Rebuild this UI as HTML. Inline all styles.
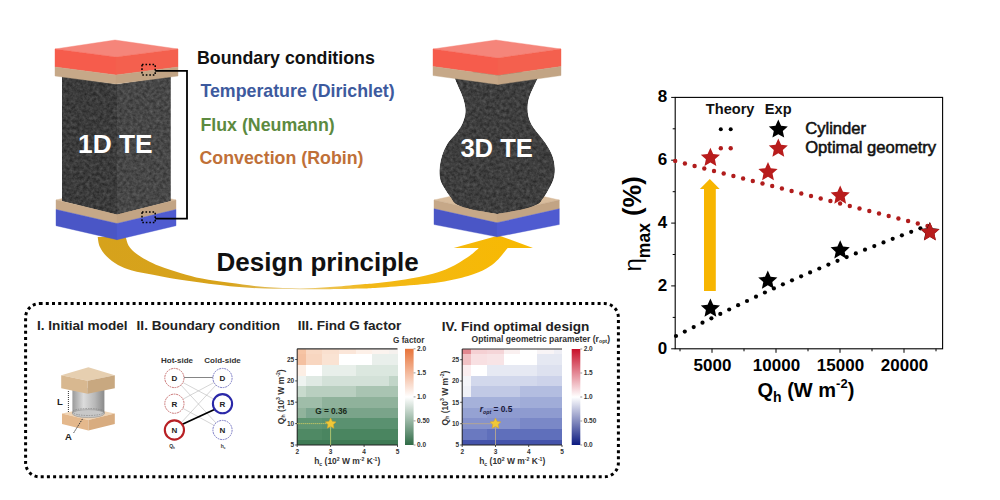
<!DOCTYPE html>
<html><head><meta charset="utf-8"><style>
html,body{margin:0;padding:0;background:#fff;}
body{width:1000px;height:500px;overflow:hidden;}
svg{display:block;font-family:"Liberation Sans", sans-serif;}
</style></head><body>
<svg width="1000" height="500" viewBox="0 0 1000 500">
<rect width="1000" height="500" fill="#fff"/>
<defs>
<filter id="tex" x="0" y="0" width="100%" height="100%" color-interpolation-filters="sRGB">
 <feTurbulence type="fractalNoise" baseFrequency="0.3" numOctaves="3" seed="7" result="n"/>
 <feColorMatrix in="n" type="matrix" values="1 0 0 0 0  1 0 0 0 0  1 0 0 0 0  0 0 0 0 1" result="g"/>
 <feComposite in="g" in2="SourceGraphic" operator="arithmetic" k1="0" k2="0.24" k3="1" k4="-0.12" result="c"/>
 <feComposite in="c" in2="SourceGraphic" operator="in"/>
</filter>
<linearGradient id="arrowg" x1="0" y1="0" x2="1" y2="0">
 <stop offset="0" stop-color="#d6a21c"/>
 <stop offset="0.3" stop-color="#d8a31a"/>
 <stop offset="0.46" stop-color="#e8cc80"/>
 <stop offset="0.62" stop-color="#f2b818"/>
 <stop offset="1" stop-color="#f8b900"/>
</linearGradient>
<linearGradient id="cbg" x1="0" y1="0" x2="0" y2="1">
 <stop offset="0" stop-color="#e8743a"/>
 <stop offset="0.5" stop-color="#ffffff"/>
 <stop offset="1" stop-color="#2f6b46"/>
</linearGradient>
<linearGradient id="cbr" x1="0" y1="0" x2="0" y2="1">
 <stop offset="0" stop-color="#c8102a"/>
 <stop offset="0.5" stop-color="#ffffff"/>
 <stop offset="1" stop-color="#0c1a80"/>
</linearGradient>
<linearGradient id="cyl" x1="0" y1="0" x2="1" y2="0">
 <stop offset="0" stop-color="#9a9a9a"/>
 <stop offset="0.35" stop-color="#dcdcdc"/>
 <stop offset="0.7" stop-color="#b8b8b8"/>
 <stop offset="1" stop-color="#8a8a8a"/>
</linearGradient>
</defs>
<path d="M97.7,237.0 C98.0,238.6 98.3,243.5 99.8,246.8 C101.3,250.1 103.8,253.6 106.8,256.6 C109.8,259.6 113.8,262.7 118.0,265.0 C122.2,267.3 126.2,269.0 132.0,270.6 C137.8,272.2 146.0,273.4 153.0,274.8 C160.0,276.2 165.8,277.5 174.0,278.8 C182.2,280.1 192.7,281.6 202.0,282.8 C211.3,284.0 219.5,285.2 230.0,286.2 C240.5,287.2 253.3,288.1 265.0,288.6 C276.7,289.1 289.2,289.1 300.0,289.2 C310.8,289.3 320.0,289.3 330.0,289.2 C340.0,289.1 352.0,288.9 360.0,288.6 C368.0,288.4 369.0,288.3 378.0,287.7 C387.0,287.1 403.5,285.9 414.0,285.0 C424.5,284.1 432.0,283.5 441.0,282.0 C450.0,280.5 460.5,278.2 468.0,276.0 C475.5,273.8 481.2,271.3 486.0,268.7 C490.8,266.1 493.4,264.1 497.0,260.6 C500.6,257.2 505.9,250.1 507.7,248.0 L533,248 L498.7,235.4 L453.7,248 L478.9,248.0 C477.1,249.5 472.8,253.8 468.0,257.0 C463.2,260.2 456.0,264.7 450.0,267.5 C444.0,270.3 439.5,272.0 432.0,274.0 C424.5,276.0 414.0,278.0 405.0,279.5 C396.0,281.0 385.5,282.2 378.0,283.0 C370.5,283.8 368.0,283.8 360.0,284.5 C352.0,285.2 340.0,286.4 330.0,287.0 C320.0,287.6 310.8,288.4 300.0,288.4 C289.2,288.4 276.7,287.9 265.0,287.0 C253.3,286.1 240.5,284.2 230.0,282.8 C219.5,281.4 210.2,280.2 202.0,278.6 C193.8,277.0 188.0,275.2 181.0,273.2 C174.0,271.1 165.8,268.5 160.0,266.3 C154.2,264.1 150.2,262.1 146.0,259.8 C141.8,257.5 137.7,254.8 134.8,252.4 C131.9,250.0 130.0,248.0 128.5,245.4 C127.0,242.8 126.2,238.4 125.7,237.0 Z" fill="url(#arrowg)"/>
<polygon points="56.0,200.0 116.0,186.0 176.0,200.0 117.0,214.0" fill="#d8bc9c" stroke="#d8bc9c" stroke-width="0.4" stroke-linejoin="round"/><polygon points="56.0,200.0 117.0,214.0 117.0,223.5 56.0,209.5" fill="#c6a888" stroke="#c6a888" stroke-width="0.4" stroke-linejoin="round"/><polygon points="117.0,214.0 176.0,200.0 176.0,209.5 117.0,223.5" fill="#c2a484" stroke="#c2a484" stroke-width="0.4" stroke-linejoin="round"/><polygon points="56.0,209.5 117.0,223.5 117.0,239.7 56.0,225.7" fill="#4a56c6" stroke="#4a56c6" stroke-width="0.4" stroke-linejoin="round"/><polygon points="117.0,223.5 176.0,209.5 176.0,225.7 117.0,239.7" fill="#4f5bd0" stroke="#4f5bd0" stroke-width="0.4" stroke-linejoin="round"/>
<g filter="url(#tex)"><polygon points="62.0,76.0 117.0,84.0 117.0,214.6 62.0,201.0" fill="#3b3b3b" /><polygon points="117.0,84.0 170.8,76.0 170.8,201.0 117.0,214.6" fill="#474747" /></g>
<polygon points="55.0,49.0 115.0,40.0 178.0,49.0 116.0,57.0" fill="#f5857a" stroke="#f5857a" stroke-width="0.4" stroke-linejoin="round"/><polygon points="55.0,49.0 116.0,57.0 116.0,75.0 55.0,67.0" fill="#f65c4c" stroke="#f65c4c" stroke-width="0.4" stroke-linejoin="round"/><polygon points="116.0,57.0 178.0,49.0 178.0,67.0 116.0,75.0" fill="#f4604e" stroke="#f4604e" stroke-width="0.4" stroke-linejoin="round"/><polygon points="55.0,67.0 116.0,75.0 116.0,84.0 55.0,76.0" fill="#c6a888" stroke="#c6a888" stroke-width="0.4" stroke-linejoin="round"/><polygon points="116.0,75.0 178.0,67.0 178.0,76.0 116.0,84.0" fill="#c2a484" stroke="#c2a484" stroke-width="0.4" stroke-linejoin="round"/>
<text x="78.0" y="153.0" font-size="26.30" font-weight="bold" fill="#fff" text-anchor="start" >1D TE</text>
<g fill="none" stroke="#000" stroke-width="1.5"><rect x="142" y="64.5" width="13.2" height="10.5" stroke-dasharray="1.6 1.9" /><rect x="142" y="212" width="13.2" height="10.5" stroke-dasharray="1.6 1.9" /><polyline points="155.2,70.9 187,70.9 187,218.6 155.2,218.6" stroke-width="1.8"/></g>
<text x="197.0" y="63.6" font-size="17.80" font-weight="bold" fill="#111" text-anchor="start" >Boundary conditions</text>
<text x="200.4" y="96.6" font-size="17.80" font-weight="bold" fill="#3d5a9e" text-anchor="start" >Temperature (Dirichlet)</text>
<text x="200.4" y="130.6" font-size="17.80" font-weight="bold" fill="#5c8a40" text-anchor="start" >Flux (Neumann)</text>
<text x="199.5" y="163.6" font-size="17.80" font-weight="bold" fill="#c07038" text-anchor="start" >Convection (Robin)</text>
<polygon points="434.0,200.0 496.6,186.0 559.3,200.0 497.0,214.0" fill="#d8bc9c" stroke="#d8bc9c" stroke-width="0.4" stroke-linejoin="round"/><polygon points="434.0,200.0 497.0,214.0 497.0,222.8 434.0,208.8" fill="#c6a888" stroke="#c6a888" stroke-width="0.4" stroke-linejoin="round"/><polygon points="497.0,214.0 559.3,200.0 559.3,208.8 497.0,222.8" fill="#c2a484" stroke="#c2a484" stroke-width="0.4" stroke-linejoin="round"/><polygon points="434.0,208.8 497.0,222.8 497.0,236.8 434.0,224.5" fill="#4a56c6" stroke="#4a56c6" stroke-width="0.4" stroke-linejoin="round"/><polygon points="497.0,222.8 559.3,208.8 559.3,224.5 497.0,236.8" fill="#4f5bd0" stroke="#4f5bd0" stroke-width="0.4" stroke-linejoin="round"/>
<g filter="url(#tex)"><path d="M454.0,72.0 C454.0,72.7 453.3,73.7 454.0,76.0 C454.7,78.3 456.5,82.5 458.0,86.0 C459.5,89.5 461.6,93.7 462.8,97.2 C464.0,100.7 464.8,103.9 465.2,106.8 C465.6,109.7 465.7,111.9 465.2,114.8 C464.7,117.7 463.6,121.2 462.0,124.4 C460.4,127.6 458.0,130.8 455.6,134.0 C453.2,137.2 449.9,139.9 447.6,143.6 C445.3,147.3 443.3,151.8 442.0,156.0 C440.7,160.2 439.9,164.8 439.6,168.8 C439.3,172.8 439.5,176.5 440.4,180.0 C441.3,183.5 443.5,186.7 445.2,189.6 C446.9,192.5 449.0,195.2 450.8,197.6 C452.6,200.0 452.8,202.1 456.0,204.0 C459.2,205.9 463.1,207.3 470.0,209.0 C476.9,210.7 492.7,213.2 497.2,214.0  C501.7,213.2 517.2,210.7 524.0,209.0 C530.8,207.3 534.9,205.7 538.0,204.0 C541.1,202.3 540.9,201.1 542.5,199.0 C544.1,196.9 545.8,194.4 547.6,191.2 C549.4,188.0 552.0,183.7 553.2,180.0 C554.4,176.3 554.9,172.8 554.8,168.8 C554.7,164.8 553.7,159.9 552.4,156.0 C551.1,152.1 548.9,148.6 546.8,145.2 C544.7,141.8 542.0,138.8 539.6,135.6 C537.2,132.4 534.3,129.2 532.4,126.0 C530.5,122.8 529.2,119.6 528.4,116.4 C527.6,113.2 527.5,110.0 527.6,106.8 C527.7,103.6 528.1,100.7 529.2,97.2 C530.3,93.7 532.4,89.5 534.0,86.0 C535.6,82.5 538.0,78.3 538.8,76.0 C539.6,73.7 538.8,72.7 538.8,72.0 Z" fill="#3e3e3e"/></g>
<polygon points="433.0,49.0 496.0,40.0 561.0,49.0 498.0,58.0" fill="#f5857a" stroke="#f5857a" stroke-width="0.4" stroke-linejoin="round"/><polygon points="433.0,49.0 498.0,58.0 498.0,75.5 433.0,66.5" fill="#f65c4c" stroke="#f65c4c" stroke-width="0.4" stroke-linejoin="round"/><polygon points="498.0,58.0 561.0,49.0 561.0,66.5 498.0,75.5" fill="#f4604e" stroke="#f4604e" stroke-width="0.4" stroke-linejoin="round"/><polygon points="433.0,66.5 498.0,75.5 498.0,84.5 433.0,75.5" fill="#c6a888" stroke="#c6a888" stroke-width="0.4" stroke-linejoin="round"/><polygon points="498.0,75.5 561.0,66.5 561.0,75.5 498.0,84.5" fill="#c2a484" stroke="#c2a484" stroke-width="0.4" stroke-linejoin="round"/>
<text x="460.4" y="156.5" font-size="25.60" font-weight="bold" fill="#fff" text-anchor="start" >3D TE</text>
<text x="216.5" y="270.6" font-size="26.00" font-weight="bold" fill="#111" text-anchor="start" >Design principle</text>
<rect x="25.6" y="303.6" width="592.8" height="173.2" rx="14" ry="14" fill="none" stroke="#000" stroke-width="3" stroke-dasharray="3 3.2"/>
<text x="37.0" y="330.2" font-size="13.60" font-weight="bold" fill="#222" text-anchor="start" >I. Initial model</text>
<text x="136.6" y="330.4" font-size="13.60" font-weight="bold" fill="#222" text-anchor="start" >II. Boundary condition</text>
<text x="297.8" y="330.4" font-size="13.60" font-weight="bold" fill="#222" text-anchor="start" >III. Find G factor</text>
<text x="441.8" y="330.6" font-size="13.60" font-weight="bold" fill="#222" text-anchor="start" >IV. Find optimal design</text>
<polygon points="62.0,413.6 89.0,408.0 114.8,413.6 88.4,420.0" fill="#f0d4b4" /><polygon points="62.0,413.6 88.4,420.0 88.4,430.5 62.0,424.1" fill="#e4b88c" /><polygon points="88.4,420.0 114.8,413.6 114.8,424.1 88.4,430.5" fill="#d8ac80" />
<rect x="72.4" y="388" width="32" height="26" fill="url(#cyl)"/>
<ellipse cx="88.4" cy="413.6" rx="16" ry="4" fill="#c8c8c8" stroke="#888" stroke-width="0.5"/>
<ellipse cx="88.4" cy="412" rx="16" ry="3.5" fill="none" stroke="#777" stroke-width="0.6" stroke-dasharray="1.5 1"/>
<polygon points="61.2,375.2 88.4,367.2 114.8,375.2 87.6,380.8" fill="#e6cfb0" /><polygon points="61.2,375.2 87.6,380.8 87.6,393.8 61.2,388.2" fill="#d8b890" /><polygon points="87.6,380.8 114.8,375.2 114.8,388.2 87.6,393.8" fill="#c8a880" />
<line x1="68.4" y1="391" x2="68.4" y2="413" stroke="#333" stroke-width="1" stroke-dasharray="1 1"/>
<line x1="73.7" y1="432.8" x2="82.8" y2="418.4" stroke="#333" stroke-width="1" stroke-dasharray="1.5 1"/>
<text x="57.0" y="404.5" font-size="9.50" font-weight="bold" fill="#222" text-anchor="start" >L</text>
<text x="65.0" y="440.0" font-size="9.50" font-weight="bold" fill="#222" text-anchor="start" >A</text>
<text x="177.0" y="362.5" font-size="8.00" font-weight="bold" fill="#333" text-anchor="middle" >Hot-side</text>
<text x="222.5" y="362.5" font-size="8.00" font-weight="bold" fill="#333" text-anchor="middle" >Cold-side</text>
<line x1="184.0" y1="377.5" x2="212.9" y2="377.5" stroke="#777" stroke-width="0.9"/><line x1="182.9" y1="382.5" x2="214.0" y2="399.2" stroke="#b8b8b8" stroke-width="0.6"/><line x1="180.9" y1="385.0" x2="216.0" y2="423.0" stroke="#b8b8b8" stroke-width="0.6"/><line x1="182.9" y1="399.2" x2="214.0" y2="382.5" stroke="#b8b8b8" stroke-width="0.6"/><line x1="182.8" y1="408.3" x2="214.1" y2="425.4" stroke="#b8b8b8" stroke-width="0.6"/><line x1="180.9" y1="423.0" x2="216.0" y2="385.0" stroke="#b8b8b8" stroke-width="0.6"/>
<line x1="181.9" y1="424.5" x2="215.0" y2="409.2" stroke="#000" stroke-width="1.8"/>
<circle cx="174.4" cy="378.0" r="9.6" fill="#fff" stroke="#c87070" stroke-width="1.0" stroke-dasharray="1.8 0.8"/>
<text x="174.4" y="381.0" font-size="8.00" font-weight="bold" fill="#222" text-anchor="middle" >D</text>
<circle cx="222.5" cy="378.0" r="9.6" fill="#fff" stroke="#7878c4" stroke-width="1.0" stroke-dasharray="1.8 0.8"/>
<text x="222.5" y="381.0" font-size="8.00" font-weight="bold" fill="#222" text-anchor="middle" >D</text>
<circle cx="174.4" cy="403.7" r="9.6" fill="#fff" stroke="#c87070" stroke-width="1.0" stroke-dasharray="1.8 0.8"/>
<text x="174.4" y="406.7" font-size="8.00" font-weight="bold" fill="#222" text-anchor="middle" >R</text>
<circle cx="222.5" cy="403.7" r="9.6" fill="#fff" stroke="#2a28a8" stroke-width="2.1" />
<text x="222.5" y="406.7" font-size="8.00" font-weight="bold" fill="#222" text-anchor="middle" >R</text>
<circle cx="174.4" cy="430.0" r="9.6" fill="#fff" stroke="#b82024" stroke-width="2.1" />
<text x="174.4" y="433.0" font-size="8.00" font-weight="bold" fill="#222" text-anchor="middle" >N</text>
<circle cx="222.5" cy="430.0" r="9.6" fill="#fff" stroke="#7878c4" stroke-width="1.0" stroke-dasharray="1.8 0.8"/>
<text x="222.5" y="433.0" font-size="8.00" font-weight="bold" fill="#222" text-anchor="middle" >N</text>
<text x="172.0" y="448.0" font-size="5.00" font-weight="bold" fill="#333" text-anchor="middle" >Q<tspan font-size="3" dy="1">h</tspan></text>
<text x="223.0" y="448.0" font-size="5.00" font-weight="bold" fill="#333" text-anchor="middle" >h<tspan font-size="3" dy="1">c</tspan></text>
<g shape-rendering="crispEdges"><rect x="297.20" y="348.80" width="8.66" height="5.64" fill="#f6c4a4"/><rect x="305.56" y="348.80" width="17.02" height="5.64" fill="#f9d9c4"/><rect x="322.27" y="348.80" width="17.02" height="5.64" fill="#fae0cf"/><rect x="338.99" y="348.80" width="17.02" height="5.64" fill="#fbe6d9"/><rect x="355.71" y="348.80" width="17.02" height="5.64" fill="#fdf0e8"/><rect x="372.43" y="348.80" width="17.02" height="5.64" fill="#fbf3ee"/><rect x="389.14" y="348.80" width="8.66" height="5.64" fill="#f5f1ee"/><rect x="297.20" y="354.14" width="8.66" height="10.99" fill="#f4c0a0"/><rect x="305.56" y="354.14" width="17.02" height="10.99" fill="#f8d6c0"/><rect x="322.27" y="354.14" width="17.02" height="10.99" fill="#fae3d3"/><rect x="338.99" y="354.14" width="17.02" height="10.99" fill="#ffffff"/><rect x="355.71" y="354.14" width="17.02" height="10.99" fill="#ffffff"/><rect x="372.43" y="354.14" width="17.02" height="10.99" fill="#e9efeb"/><rect x="389.14" y="354.14" width="8.66" height="10.99" fill="#e9efeb"/><rect x="297.20" y="364.83" width="8.66" height="10.99" fill="#fceee4"/><rect x="305.56" y="364.83" width="17.02" height="10.99" fill="#ffffff"/><rect x="322.27" y="364.83" width="17.02" height="10.99" fill="#e8efea"/><rect x="338.99" y="364.83" width="17.02" height="10.99" fill="#e8efea"/><rect x="355.71" y="364.83" width="17.02" height="10.99" fill="#dbe7df"/><rect x="372.43" y="364.83" width="17.02" height="10.99" fill="#dbe7df"/><rect x="389.14" y="364.83" width="8.66" height="10.99" fill="#dbe7df"/><rect x="297.20" y="375.52" width="8.66" height="10.99" fill="#eef3f0"/><rect x="305.56" y="375.52" width="17.02" height="10.99" fill="#dfe9e3"/><rect x="322.27" y="375.52" width="17.02" height="10.99" fill="#d3e1d8"/><rect x="338.99" y="375.52" width="17.02" height="10.99" fill="#d3e1d8"/><rect x="355.71" y="375.52" width="17.02" height="10.99" fill="#d3e1d8"/><rect x="372.43" y="375.52" width="17.02" height="10.99" fill="#d3e1d8"/><rect x="389.14" y="375.52" width="8.66" height="10.99" fill="#c1d5c8"/><rect x="297.20" y="386.21" width="8.66" height="10.99" fill="#c8dacd"/><rect x="305.56" y="386.21" width="17.02" height="10.99" fill="#b9cfc0"/><rect x="322.27" y="386.21" width="17.02" height="10.99" fill="#b9cfc0"/><rect x="338.99" y="386.21" width="17.02" height="10.99" fill="#b9cfc0"/><rect x="355.71" y="386.21" width="17.02" height="10.99" fill="#a9c4b2"/><rect x="372.43" y="386.21" width="17.02" height="10.99" fill="#a9c4b2"/><rect x="389.14" y="386.21" width="8.66" height="10.99" fill="#a9c4b2"/><rect x="297.20" y="396.90" width="8.66" height="10.99" fill="#9fbda9"/><rect x="305.56" y="396.90" width="17.02" height="10.99" fill="#9fbda9"/><rect x="322.27" y="396.90" width="17.02" height="10.99" fill="#8fb29b"/><rect x="338.99" y="396.90" width="17.02" height="10.99" fill="#8fb29b"/><rect x="355.71" y="396.90" width="17.02" height="10.99" fill="#8fb29b"/><rect x="372.43" y="396.90" width="17.02" height="10.99" fill="#8fb29b"/><rect x="389.14" y="396.90" width="8.66" height="10.99" fill="#8fb29b"/><rect x="297.20" y="407.59" width="8.66" height="10.99" fill="#91b39c"/><rect x="305.56" y="407.59" width="17.02" height="10.99" fill="#7da690"/><rect x="322.27" y="407.59" width="17.02" height="10.99" fill="#7aa48a"/><rect x="338.99" y="407.59" width="17.02" height="10.99" fill="#7aa48a"/><rect x="355.71" y="407.59" width="17.02" height="10.99" fill="#7aa48a"/><rect x="372.43" y="407.59" width="17.02" height="10.99" fill="#7aa48a"/><rect x="389.14" y="407.59" width="8.66" height="10.99" fill="#7aa48a"/><rect x="297.20" y="418.28" width="8.66" height="10.99" fill="#5f9572"/><rect x="305.56" y="418.28" width="17.02" height="10.99" fill="#5f9572"/><rect x="322.27" y="418.28" width="17.02" height="10.99" fill="#5a9170"/><rect x="338.99" y="418.28" width="17.02" height="10.99" fill="#5a9170"/><rect x="355.71" y="418.28" width="17.02" height="10.99" fill="#5a9170"/><rect x="372.43" y="418.28" width="17.02" height="10.99" fill="#5a9170"/><rect x="389.14" y="418.28" width="8.66" height="10.99" fill="#5a9170"/><rect x="297.20" y="428.97" width="8.66" height="10.99" fill="#4f8964"/><rect x="305.56" y="428.97" width="17.02" height="10.99" fill="#4f8964"/><rect x="322.27" y="428.97" width="17.02" height="10.99" fill="#4a8560"/><rect x="338.99" y="428.97" width="17.02" height="10.99" fill="#4a8560"/><rect x="355.71" y="428.97" width="17.02" height="10.99" fill="#4a8560"/><rect x="372.43" y="428.97" width="17.02" height="10.99" fill="#4a8560"/><rect x="389.14" y="428.97" width="8.66" height="10.99" fill="#4a8560"/><rect x="297.20" y="439.66" width="8.66" height="5.64" fill="#3f7b55"/><rect x="305.56" y="439.66" width="17.02" height="5.64" fill="#3f7b55"/><rect x="322.27" y="439.66" width="17.02" height="5.64" fill="#3f7b55"/><rect x="338.99" y="439.66" width="17.02" height="5.64" fill="#3f7b55"/><rect x="355.71" y="439.66" width="17.02" height="5.64" fill="#3f7b55"/><rect x="372.43" y="439.66" width="17.02" height="5.64" fill="#3f7b55"/><rect x="389.14" y="439.66" width="8.66" height="5.64" fill="#3f7b55"/></g><line x1="297.2" y1="348.8" x2="397.5" y2="348.8" stroke="#333" stroke-width="1.2"/><line x1="297.2" y1="348.8" x2="297.2" y2="445.0" stroke="#222" stroke-width="1"/><line x1="297.2" y1="445.0" x2="397.5" y2="445.0" stroke="#222" stroke-width="1.2"/><line x1="295.2" y1="445.0" x2="297.2" y2="445.0" stroke="#222" stroke-width="0.8"/><text x="294.2" y="447.3" font-size="6.50" font-weight="bold" fill="#333" text-anchor="end" >5</text><line x1="295.2" y1="423.6" x2="297.2" y2="423.6" stroke="#222" stroke-width="0.8"/><text x="294.2" y="425.9" font-size="6.50" font-weight="bold" fill="#333" text-anchor="end" >10</text><line x1="295.2" y1="402.2" x2="297.2" y2="402.2" stroke="#222" stroke-width="0.8"/><text x="294.2" y="404.5" font-size="6.50" font-weight="bold" fill="#333" text-anchor="end" >15</text><line x1="295.2" y1="380.9" x2="297.2" y2="380.9" stroke="#222" stroke-width="0.8"/><text x="294.2" y="383.2" font-size="6.50" font-weight="bold" fill="#333" text-anchor="end" >20</text><line x1="295.2" y1="359.5" x2="297.2" y2="359.5" stroke="#222" stroke-width="0.8"/><text x="294.2" y="361.8" font-size="6.50" font-weight="bold" fill="#333" text-anchor="end" >25</text><line x1="297.2" y1="445.0" x2="297.2" y2="447.0" stroke="#222" stroke-width="0.8"/><text x="297.2" y="454.0" font-size="6.50" font-weight="bold" fill="#333" text-anchor="middle" >2</text><line x1="330.6" y1="445.0" x2="330.6" y2="447.0" stroke="#222" stroke-width="0.8"/><text x="330.6" y="454.0" font-size="6.50" font-weight="bold" fill="#333" text-anchor="middle" >3</text><line x1="364.1" y1="445.0" x2="364.1" y2="447.0" stroke="#222" stroke-width="0.8"/><text x="364.1" y="454.0" font-size="6.50" font-weight="bold" fill="#333" text-anchor="middle" >4</text><line x1="397.5" y1="445.0" x2="397.5" y2="447.0" stroke="#222" stroke-width="0.8"/><text x="397.5" y="454.0" font-size="6.50" font-weight="bold" fill="#333" text-anchor="middle" >5</text><g stroke="#d8d060" stroke-width="0.9" stroke-dasharray="1.2 0.8"><line x1="297.2" y1="423.6" x2="330.6" y2="423.6"/></g><line x1="330.6" y1="423.6" x2="330.6" y2="445.0" stroke="#b8c870" stroke-width="0.9"/><polygon points="330.6,418.0 332.3,421.4 336.0,421.9 333.3,424.5 333.9,428.2 330.6,426.4 327.3,428.2 328.0,424.5 325.3,421.9 329.0,421.4" fill="#f0c838"  stroke="#d8a828" stroke-width="0.6"/><rect x="405.0" y="348.8" width="8.6" height="96.2" fill="url(#cbg)"/><line x1="413.6" y1="348.8" x2="415.5" y2="348.8" stroke="#555" stroke-width="0.6"/><text x="417.0" y="351.2" font-size="6.50" font-weight="bold" fill="#333" text-anchor="start" >2.0</text><line x1="413.6" y1="372.9" x2="415.5" y2="372.9" stroke="#555" stroke-width="0.6"/><text x="417.0" y="375.2" font-size="6.50" font-weight="bold" fill="#333" text-anchor="start" >1.5</text><line x1="413.6" y1="396.9" x2="415.5" y2="396.9" stroke="#555" stroke-width="0.6"/><text x="417.0" y="399.3" font-size="6.50" font-weight="bold" fill="#333" text-anchor="start" >1.0</text><line x1="413.6" y1="420.9" x2="415.5" y2="420.9" stroke="#555" stroke-width="0.6"/><text x="417.0" y="423.3" font-size="6.50" font-weight="bold" fill="#333" text-anchor="start" >0.50</text><line x1="413.6" y1="445.0" x2="415.5" y2="445.0" stroke="#555" stroke-width="0.6"/><text x="417.0" y="447.4" font-size="6.50" font-weight="bold" fill="#333" text-anchor="start" >0.0</text><text transform="translate(283.5,396.8) rotate(-90)" font-size="8.45" font-weight="bold" fill="#333" text-anchor="middle">Q<tspan font-size="5.2" dy="1.8">h</tspan><tspan dy="-1.8"> (10</tspan><tspan font-size="5.2" dy="-3.5">3</tspan><tspan dy="3.5"> W m</tspan><tspan font-size="5.2" dy="-3.5">-2</tspan><tspan dy="3.5">)</tspan></text><text x="314.2" y="464.2" font-size="8.45" font-weight="bold" fill="#333">h<tspan font-size="5.2" dy="1.8">c</tspan><tspan dy="-1.8"> (10</tspan><tspan font-size="5.2" dy="-3.5">2</tspan><tspan dy="3.5"> W m</tspan><tspan font-size="5.2" dy="-3.5">-2</tspan><tspan dy="3.5"> K</tspan><tspan font-size="5.2" dy="-3.5">-1</tspan><tspan dy="3.5">)</tspan></text>
<text x="393.0" y="343.0" font-size="8.20" font-weight="bold" fill="#333" text-anchor="start" >G factor</text>
<text x="315.2" y="414.4" font-size="8.25" font-weight="bold" fill="#1a2a1a" text-anchor="start" >G = 0.36</text>
<g shape-rendering="crispEdges"><rect x="462.20" y="349.00" width="8.62" height="5.63" fill="#e28890"/><rect x="470.52" y="349.00" width="16.93" height="5.63" fill="#f5d0d3"/><rect x="487.15" y="349.00" width="16.93" height="5.63" fill="#f5d5d8"/><rect x="503.78" y="349.00" width="16.93" height="5.63" fill="#faf0f0"/><rect x="520.42" y="349.00" width="16.93" height="5.63" fill="#ffffff"/><rect x="537.05" y="349.00" width="16.93" height="5.63" fill="#f8f4f6"/><rect x="553.68" y="349.00" width="8.62" height="5.63" fill="#eeeef5"/><rect x="462.20" y="354.33" width="8.62" height="10.97" fill="#f2c2c5"/><rect x="470.52" y="354.33" width="16.93" height="10.97" fill="#f8e0e2"/><rect x="487.15" y="354.33" width="16.93" height="10.97" fill="#f8e4e6"/><rect x="503.78" y="354.33" width="16.93" height="10.97" fill="#ffffff"/><rect x="520.42" y="354.33" width="16.93" height="10.97" fill="#ffffff"/><rect x="537.05" y="354.33" width="16.93" height="10.97" fill="#e5e8f2"/><rect x="553.68" y="354.33" width="8.62" height="10.97" fill="#e5e8f2"/><rect x="462.20" y="365.00" width="8.62" height="10.97" fill="#fbeef0"/><rect x="470.52" y="365.00" width="16.93" height="10.97" fill="#ffffff"/><rect x="487.15" y="365.00" width="16.93" height="10.97" fill="#e6e9f3"/><rect x="503.78" y="365.00" width="16.93" height="10.97" fill="#e6e9f3"/><rect x="520.42" y="365.00" width="16.93" height="10.97" fill="#e6e9f3"/><rect x="537.05" y="365.00" width="16.93" height="10.97" fill="#dde1ef"/><rect x="553.68" y="365.00" width="8.62" height="10.97" fill="#dde1ef"/><rect x="462.20" y="375.67" width="8.62" height="10.97" fill="#f5f5f9"/><rect x="470.52" y="375.67" width="16.93" height="10.97" fill="#d2d8ec"/><rect x="487.15" y="375.67" width="16.93" height="10.97" fill="#d2d8ec"/><rect x="503.78" y="375.67" width="16.93" height="10.97" fill="#d2d8ec"/><rect x="520.42" y="375.67" width="16.93" height="10.97" fill="#d2d8ec"/><rect x="537.05" y="375.67" width="16.93" height="10.97" fill="#cdd3ea"/><rect x="553.68" y="375.67" width="8.62" height="10.97" fill="#cdd3ea"/><rect x="462.20" y="386.33" width="8.62" height="10.97" fill="#f0f1f7"/><rect x="470.52" y="386.33" width="16.93" height="10.97" fill="#c1c9e5"/><rect x="487.15" y="386.33" width="16.93" height="10.97" fill="#c1c9e5"/><rect x="503.78" y="386.33" width="16.93" height="10.97" fill="#c1c9e5"/><rect x="520.42" y="386.33" width="16.93" height="10.97" fill="#b3bde0"/><rect x="537.05" y="386.33" width="16.93" height="10.97" fill="#b3bde0"/><rect x="553.68" y="386.33" width="8.62" height="10.97" fill="#b3bde0"/><rect x="462.20" y="397.00" width="8.62" height="10.97" fill="#a5b1da"/><rect x="470.52" y="397.00" width="16.93" height="10.97" fill="#a5b1da"/><rect x="487.15" y="397.00" width="16.93" height="10.97" fill="#a5b1da"/><rect x="503.78" y="397.00" width="16.93" height="10.97" fill="#a5b1da"/><rect x="520.42" y="397.00" width="16.93" height="10.97" fill="#a0acd8"/><rect x="537.05" y="397.00" width="16.93" height="10.97" fill="#a0acd8"/><rect x="553.68" y="397.00" width="8.62" height="10.97" fill="#a0acd8"/><rect x="462.20" y="407.67" width="8.62" height="10.97" fill="#95a2d3"/><rect x="470.52" y="407.67" width="16.93" height="10.97" fill="#95a2d3"/><rect x="487.15" y="407.67" width="16.93" height="10.97" fill="#8e9bd0"/><rect x="503.78" y="407.67" width="16.93" height="10.97" fill="#8e9bd0"/><rect x="520.42" y="407.67" width="16.93" height="10.97" fill="#8e9bd0"/><rect x="537.05" y="407.67" width="16.93" height="10.97" fill="#8e9bd0"/><rect x="553.68" y="407.67" width="8.62" height="10.97" fill="#8e9bd0"/><rect x="462.20" y="418.33" width="8.62" height="10.97" fill="#8592cc"/><rect x="470.52" y="418.33" width="16.93" height="10.97" fill="#8592cc"/><rect x="487.15" y="418.33" width="16.93" height="10.97" fill="#8592cc"/><rect x="503.78" y="418.33" width="16.93" height="10.97" fill="#8592cc"/><rect x="520.42" y="418.33" width="16.93" height="10.97" fill="#7a88c7"/><rect x="537.05" y="418.33" width="16.93" height="10.97" fill="#7a88c7"/><rect x="553.68" y="418.33" width="8.62" height="10.97" fill="#7a88c7"/><rect x="462.20" y="429.00" width="8.62" height="10.97" fill="#6a79c0"/><rect x="470.52" y="429.00" width="16.93" height="10.97" fill="#6a79c0"/><rect x="487.15" y="429.00" width="16.93" height="10.97" fill="#5f6fbb"/><rect x="503.78" y="429.00" width="16.93" height="10.97" fill="#5f6fbb"/><rect x="520.42" y="429.00" width="16.93" height="10.97" fill="#5f6fbb"/><rect x="537.05" y="429.00" width="16.93" height="10.97" fill="#5f6fbb"/><rect x="553.68" y="429.00" width="8.62" height="10.97" fill="#5f6fbb"/><rect x="462.20" y="439.67" width="8.62" height="5.63" fill="#4453ab"/><rect x="470.52" y="439.67" width="16.93" height="5.63" fill="#4453ab"/><rect x="487.15" y="439.67" width="16.93" height="5.63" fill="#4453ab"/><rect x="503.78" y="439.67" width="16.93" height="5.63" fill="#4453ab"/><rect x="520.42" y="439.67" width="16.93" height="5.63" fill="#4453ab"/><rect x="537.05" y="439.67" width="16.93" height="5.63" fill="#4453ab"/><rect x="553.68" y="439.67" width="8.62" height="5.63" fill="#4453ab"/></g><line x1="462.2" y1="349.0" x2="562.0" y2="349.0" stroke="#333" stroke-width="1.2"/><line x1="462.2" y1="349.0" x2="462.2" y2="445.0" stroke="#222" stroke-width="1"/><line x1="462.2" y1="445.0" x2="562.0" y2="445.0" stroke="#222" stroke-width="1.2"/><line x1="460.2" y1="445.0" x2="462.2" y2="445.0" stroke="#222" stroke-width="0.8"/><text x="459.2" y="447.3" font-size="6.50" font-weight="bold" fill="#333" text-anchor="end" >5</text><line x1="460.2" y1="423.7" x2="462.2" y2="423.7" stroke="#222" stroke-width="0.8"/><text x="459.2" y="426.0" font-size="6.50" font-weight="bold" fill="#333" text-anchor="end" >10</text><line x1="460.2" y1="402.3" x2="462.2" y2="402.3" stroke="#222" stroke-width="0.8"/><text x="459.2" y="404.6" font-size="6.50" font-weight="bold" fill="#333" text-anchor="end" >15</text><line x1="460.2" y1="381.0" x2="462.2" y2="381.0" stroke="#222" stroke-width="0.8"/><text x="459.2" y="383.3" font-size="6.50" font-weight="bold" fill="#333" text-anchor="end" >20</text><line x1="460.2" y1="359.7" x2="462.2" y2="359.7" stroke="#222" stroke-width="0.8"/><text x="459.2" y="362.0" font-size="6.50" font-weight="bold" fill="#333" text-anchor="end" >25</text><line x1="462.2" y1="445.0" x2="462.2" y2="447.0" stroke="#222" stroke-width="0.8"/><text x="462.2" y="454.0" font-size="6.50" font-weight="bold" fill="#333" text-anchor="middle" >2</text><line x1="495.5" y1="445.0" x2="495.5" y2="447.0" stroke="#222" stroke-width="0.8"/><text x="495.5" y="454.0" font-size="6.50" font-weight="bold" fill="#333" text-anchor="middle" >3</text><line x1="528.7" y1="445.0" x2="528.7" y2="447.0" stroke="#222" stroke-width="0.8"/><text x="528.7" y="454.0" font-size="6.50" font-weight="bold" fill="#333" text-anchor="middle" >4</text><line x1="562.0" y1="445.0" x2="562.0" y2="447.0" stroke="#222" stroke-width="0.8"/><text x="562.0" y="454.0" font-size="6.50" font-weight="bold" fill="#333" text-anchor="middle" >5</text><g stroke="#b8a890" stroke-width="0.9"><line x1="462.2" y1="423.7" x2="495.5" y2="423.7"/><line x1="495.5" y1="423.7" x2="495.5" y2="445.0"/></g><polygon points="495.5,418.1 497.1,421.4 500.8,421.9 498.1,424.5 498.8,428.2 495.5,426.5 492.2,428.2 492.8,424.5 490.1,421.9 493.8,421.4" fill="#f0c838"  stroke="#d8a828" stroke-width="0.6"/><rect x="571.7" y="349.0" width="8.6" height="96.0" fill="url(#cbr)"/><line x1="580.3" y1="349.0" x2="582.2" y2="349.0" stroke="#555" stroke-width="0.6"/><text x="583.7" y="351.4" font-size="6.50" font-weight="bold" fill="#333" text-anchor="start" >2.0</text><line x1="580.3" y1="373.0" x2="582.2" y2="373.0" stroke="#555" stroke-width="0.6"/><text x="583.7" y="375.4" font-size="6.50" font-weight="bold" fill="#333" text-anchor="start" >1.5</text><line x1="580.3" y1="397.0" x2="582.2" y2="397.0" stroke="#555" stroke-width="0.6"/><text x="583.7" y="399.4" font-size="6.50" font-weight="bold" fill="#333" text-anchor="start" >1.0</text><line x1="580.3" y1="421.0" x2="582.2" y2="421.0" stroke="#555" stroke-width="0.6"/><text x="583.7" y="423.4" font-size="6.50" font-weight="bold" fill="#333" text-anchor="start" >0.50</text><line x1="580.3" y1="445.0" x2="582.2" y2="445.0" stroke="#555" stroke-width="0.6"/><text x="583.7" y="447.4" font-size="6.50" font-weight="bold" fill="#333" text-anchor="start" >0.0</text><text transform="translate(447.5,398.0) rotate(-90)" font-size="8.45" font-weight="bold" fill="#333" text-anchor="middle">Q<tspan font-size="5.2" dy="1.8">h</tspan><tspan dy="-1.8"> (10</tspan><tspan font-size="5.2" dy="-3.5">3</tspan><tspan dy="3.5"> W m</tspan><tspan font-size="5.2" dy="-3.5">-2</tspan><tspan dy="3.5">)</tspan></text><text x="479.2" y="464.2" font-size="8.45" font-weight="bold" fill="#333">h<tspan font-size="5.2" dy="1.8">c</tspan><tspan dy="-1.8"> (10</tspan><tspan font-size="5.2" dy="-3.5">2</tspan><tspan dy="3.5"> W m</tspan><tspan font-size="5.2" dy="-3.5">-2</tspan><tspan dy="3.5"> K</tspan><tspan font-size="5.2" dy="-3.5">-1</tspan><tspan dy="3.5">)</tspan></text>
<text x="471.6" y="341.5" font-size="8.55" font-weight="bold" fill="#333" text-anchor="start" >Optimal geometric parameter (r<tspan font-size="5.3" dy="1.7">opt</tspan><tspan dy="-1.7">)</tspan></text>
<text x="479.8" y="411.7" font-size="8.40" font-weight="bold" fill="#1a1a3a" text-anchor="start" ><tspan font-style="italic">r</tspan><tspan font-size="5.2" dy="1.8" font-style="italic">opt</tspan><tspan dy="-1.8"> = 0.5</tspan></text>
<rect x="675.2" y="97.4" width="267.4" height="251.4" fill="none" stroke="#000" stroke-width="1.1"/><line x1="671.2" y1="348.8" x2="675.2" y2="348.8" stroke="#000" stroke-width="1"/><text x="667.2" y="353.6" font-size="17.00" font-weight="bold" fill="#000" text-anchor="end" >0</text><line x1="672.7" y1="317.4" x2="675.2" y2="317.4" stroke="#000" stroke-width="1"/><line x1="671.2" y1="285.9" x2="675.2" y2="285.9" stroke="#000" stroke-width="1"/><text x="667.2" y="290.8" font-size="17.00" font-weight="bold" fill="#000" text-anchor="end" >2</text><line x1="672.7" y1="254.5" x2="675.2" y2="254.5" stroke="#000" stroke-width="1"/><line x1="671.2" y1="223.1" x2="675.2" y2="223.1" stroke="#000" stroke-width="1"/><text x="667.2" y="227.9" font-size="17.00" font-weight="bold" fill="#000" text-anchor="end" >4</text><line x1="672.7" y1="191.7" x2="675.2" y2="191.7" stroke="#000" stroke-width="1"/><line x1="671.2" y1="160.2" x2="675.2" y2="160.2" stroke="#000" stroke-width="1"/><text x="667.2" y="165.1" font-size="17.00" font-weight="bold" fill="#000" text-anchor="end" >6</text><line x1="672.7" y1="128.8" x2="675.2" y2="128.8" stroke="#000" stroke-width="1"/><line x1="671.2" y1="97.4" x2="675.2" y2="97.4" stroke="#000" stroke-width="1"/><text x="667.2" y="102.2" font-size="17.00" font-weight="bold" fill="#000" text-anchor="end" >8</text><line x1="680.0" y1="348.8" x2="680.0" y2="351.3" stroke="#000" stroke-width="1"/><line x1="712.0" y1="348.8" x2="712.0" y2="352.8" stroke="#000" stroke-width="1"/><text x="712.5" y="370.8" font-size="17.00" font-weight="bold" fill="#000" text-anchor="middle" >5000</text><line x1="744.0" y1="348.8" x2="744.0" y2="351.3" stroke="#000" stroke-width="1"/><line x1="776.0" y1="348.8" x2="776.0" y2="352.8" stroke="#000" stroke-width="1"/><text x="776.5" y="370.8" font-size="17.00" font-weight="bold" fill="#000" text-anchor="middle" >10000</text><line x1="808.0" y1="348.8" x2="808.0" y2="351.3" stroke="#000" stroke-width="1"/><line x1="840.0" y1="348.8" x2="840.0" y2="352.8" stroke="#000" stroke-width="1"/><text x="840.5" y="370.8" font-size="17.00" font-weight="bold" fill="#000" text-anchor="middle" >15000</text><line x1="872.0" y1="348.8" x2="872.0" y2="351.3" stroke="#000" stroke-width="1"/><line x1="904.0" y1="348.8" x2="904.0" y2="352.8" stroke="#000" stroke-width="1"/><text x="904.5" y="370.8" font-size="17.00" font-weight="bold" fill="#000" text-anchor="middle" >20000</text><line x1="936.0" y1="348.8" x2="936.0" y2="351.3" stroke="#000" stroke-width="1"/><g><circle cx="676.0" cy="336.0" r="2.10" fill="#000"/><circle cx="684.8" cy="331.6" r="2.10" fill="#000"/><circle cx="693.7" cy="327.1" r="2.10" fill="#000"/><circle cx="702.5" cy="322.7" r="2.10" fill="#000"/><circle cx="711.4" cy="318.3" r="2.10" fill="#000"/><circle cx="720.3" cy="313.9" r="2.10" fill="#000"/><circle cx="729.2" cy="309.5" r="2.10" fill="#000"/><circle cx="738.1" cy="305.2" r="2.10" fill="#000"/><circle cx="747.0" cy="301.0" r="2.10" fill="#000"/><circle cx="756.0" cy="296.7" r="2.10" fill="#000"/><circle cx="764.9" cy="292.5" r="2.10" fill="#000"/><circle cx="773.9" cy="288.4" r="2.10" fill="#000"/><circle cx="782.9" cy="284.3" r="2.10" fill="#000"/><circle cx="792.0" cy="280.3" r="2.10" fill="#000"/><circle cx="801.1" cy="276.3" r="2.10" fill="#000"/><circle cx="810.1" cy="272.4" r="2.10" fill="#000"/><circle cx="819.3" cy="268.5" r="2.10" fill="#000"/><circle cx="828.4" cy="264.6" r="2.10" fill="#000"/><circle cx="837.5" cy="260.8" r="2.10" fill="#000"/><circle cx="846.7" cy="257.1" r="2.10" fill="#000"/><circle cx="855.8" cy="253.4" r="2.10" fill="#000"/><circle cx="865.0" cy="249.7" r="2.10" fill="#000"/><circle cx="874.3" cy="246.1" r="2.10" fill="#000"/><circle cx="883.5" cy="242.4" r="2.10" fill="#000"/><circle cx="892.7" cy="238.8" r="2.10" fill="#000"/><circle cx="901.9" cy="235.3" r="2.10" fill="#000"/><circle cx="911.2" cy="231.8" r="2.10" fill="#000"/><circle cx="920.4" cy="228.3" r="2.10" fill="#000"/></g><g><circle cx="675.2" cy="160.9" r="2.20" fill="#b01c1c"/><circle cx="684.9" cy="163.5" r="2.20" fill="#b01c1c"/><circle cx="694.6" cy="166.0" r="2.20" fill="#b01c1c"/><circle cx="704.3" cy="168.5" r="2.20" fill="#b01c1c"/><circle cx="714.0" cy="171.0" r="2.20" fill="#b01c1c"/><circle cx="723.7" cy="173.5" r="2.20" fill="#b01c1c"/><circle cx="733.4" cy="176.0" r="2.20" fill="#b01c1c"/><circle cx="743.1" cy="178.5" r="2.20" fill="#b01c1c"/><circle cx="752.8" cy="181.0" r="2.20" fill="#b01c1c"/><circle cx="762.5" cy="183.5" r="2.20" fill="#b01c1c"/><circle cx="772.2" cy="186.0" r="2.20" fill="#b01c1c"/><circle cx="781.9" cy="188.5" r="2.20" fill="#b01c1c"/><circle cx="791.6" cy="191.0" r="2.20" fill="#b01c1c"/><circle cx="801.3" cy="193.5" r="2.20" fill="#b01c1c"/><circle cx="811.0" cy="196.0" r="2.20" fill="#b01c1c"/><circle cx="820.7" cy="198.5" r="2.20" fill="#b01c1c"/><circle cx="830.4" cy="201.0" r="2.20" fill="#b01c1c"/><circle cx="840.1" cy="203.5" r="2.20" fill="#b01c1c"/><circle cx="849.8" cy="206.0" r="2.20" fill="#b01c1c"/><circle cx="859.5" cy="208.5" r="2.20" fill="#b01c1c"/><circle cx="869.3" cy="211.0" r="2.20" fill="#b01c1c"/><circle cx="879.0" cy="213.5" r="2.20" fill="#b01c1c"/><circle cx="888.7" cy="216.0" r="2.20" fill="#b01c1c"/><circle cx="898.4" cy="218.5" r="2.20" fill="#b01c1c"/><circle cx="908.1" cy="221.0" r="2.20" fill="#b01c1c"/><circle cx="917.8" cy="223.5" r="2.20" fill="#b01c1c"/><circle cx="927.5" cy="226.0" r="2.20" fill="#b01c1c"/></g><path d="M704,291 L704,189 L699.9,189 L709.8,179 L719.7,189 L715.8,189 L715.8,291 Z" fill="#f7b500"/><polygon points="710.4,298.5 713.2,304.8 720.0,305.5 714.9,310.1 716.3,316.8 710.4,313.3 704.5,316.8 705.9,310.1 700.8,305.5 707.6,304.8" fill="#000" /><polygon points="767.8,270.5 770.6,276.8 777.4,277.5 772.3,282.1 773.7,288.8 767.8,285.3 761.9,288.8 763.3,282.1 758.2,277.5 765.0,276.8" fill="#000" /><polygon points="840.2,240.3 843.0,246.6 849.8,247.3 844.7,251.9 846.1,258.6 840.2,255.1 834.3,258.6 835.7,251.9 830.6,247.3 837.4,246.6" fill="#000" /><polygon points="929.8,221.9 932.6,228.2 939.4,228.9 934.3,233.5 935.7,240.2 929.8,236.7 923.9,240.2 925.3,233.5 920.2,228.9 927.0,228.2" fill="#000" /><polygon points="710.4,147.7 713.2,154.0 720.0,154.7 714.9,159.3 716.3,166.0 710.4,162.5 704.5,166.0 705.9,159.3 700.8,154.7 707.6,154.0" fill="#b81c1c" /><polygon points="768.0,161.9 770.8,168.2 777.6,168.9 772.5,173.5 773.9,180.2 768.0,176.7 762.1,180.2 763.5,173.5 758.4,168.9 765.2,168.2" fill="#b81c1c" /><polygon points="840.2,185.5 843.0,191.8 849.8,192.5 844.7,197.1 846.1,203.8 840.2,200.3 834.3,203.8 835.7,197.1 830.6,192.5 837.4,191.8" fill="#b81c1c" /><polygon points="930.0,222.2 932.8,228.5 939.6,229.2 934.5,233.8 935.9,240.5 930.0,237.0 924.1,240.5 925.5,233.8 920.4,229.2 927.2,228.5" fill="#b81c1c" /><text x="705.8" y="114.2" font-size="14.60" font-weight="bold" fill="#111" text-anchor="start" >Theory</text><text x="764.8" y="114.2" font-size="14.60" font-weight="bold" fill="#111" text-anchor="start" >Exp</text><circle cx="720.8" cy="129.2" r="2" fill="#000"/><circle cx="730.7" cy="129.2" r="2" fill="#000"/><circle cx="720.8" cy="148.3" r="2.2" fill="#b01c1c"/><circle cx="730.7" cy="148.3" r="2.2" fill="#b01c1c"/><polygon points="778.3,119.5 781.1,125.7 787.8,126.4 782.8,131.0 784.2,137.6 778.3,134.2 772.4,137.6 773.8,131.0 768.8,126.4 775.5,125.7" fill="#000" /><polygon points="778.3,138.6 781.1,144.8 787.8,145.5 782.8,150.1 784.2,156.7 778.3,153.3 772.4,156.7 773.8,150.1 768.8,145.5 775.5,144.8" fill="#b81c1c" /><text x="805.2" y="133.8" font-size="16.60" font-weight="normal" fill="#111" text-anchor="start" stroke="#111" stroke-width="0.55">Cylinder</text><text x="805.2" y="153.0" font-size="16.60" font-weight="normal" fill="#111" text-anchor="start" stroke="#111" stroke-width="0.55">Optimal geometry</text><text x="757.5" y="396.8" font-size="20" font-weight="bold" fill="#000">Q<tspan font-size="14" dy="5">h</tspan><tspan dy="-5"> (W m</tspan><tspan font-size="13" dy="-9">-2</tspan><tspan dy="9">)</tspan></text><text transform="translate(641,271.5) rotate(-90)" font-size="25.5" font-weight="bold" fill="#000"><tspan font-weight="normal" font-size="24">η</tspan><tspan font-size="17.5" dy="8.5">max</tspan><tspan dy="-8.5"> (%)</tspan></text>
</svg></body></html>
